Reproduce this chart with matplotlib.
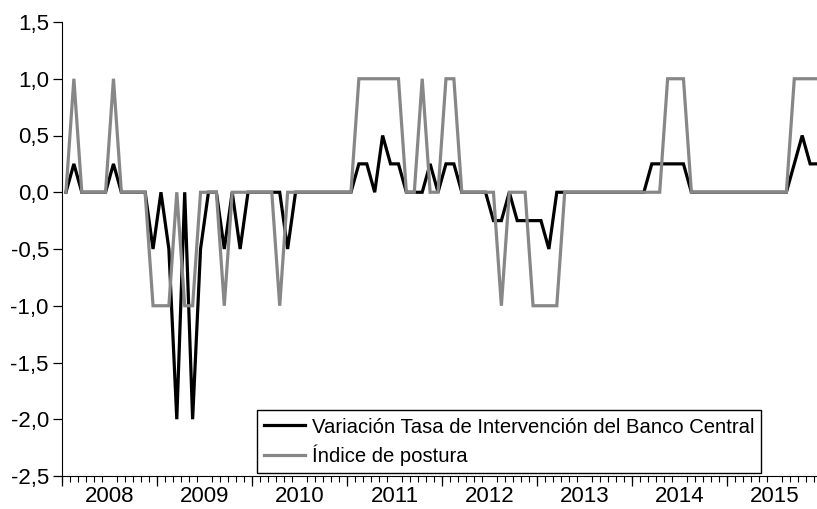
import matplotlib
matplotlib.use("Agg")
import matplotlib.pyplot as plt
import numpy as np
import pandas as pd
from matplotlib.ticker import FixedLocator, FuncFormatter

plt.rcParams["font.family"] = ["Liberation Sans", "DejaVu Sans"]

# monthly observations, Jan 2008 .. Dec 2015
months = pd.date_range("2008-01-01", "2015-12-01", freq="MS")
years = list(range(2008, 2016))

# variación de la tasa de intervención (puntos porcentuales)
tasa = [
    0, 0.25, 0, 0, 0, 0, 0.25, 0, 0, 0, 0, -0.5,          # 2008
    0, -0.5, -2.0, 0, -2.0, -0.5, 0, 0, -0.5, 0, -0.5, 0,  # 2009
    0, 0, 0, 0, -0.5, 0, 0, 0, 0, 0, 0, 0,                 # 2010
    0, 0.25, 0.25, 0, 0.5, 0.25, 0.25, 0, 0, 0, 0.25, 0,   # 2011
    0.25, 0.25, 0, 0, 0, 0, -0.25, -0.25, 0, -0.25, -0.25, -0.25,  # 2012
    -0.25, -0.5, 0, 0, 0, 0, 0, 0, 0, 0, 0, 0,             # 2013
    0, 0, 0.25, 0.25, 0.25, 0.25, 0.25, 0, 0, 0, 0, 0,     # 2014
    0, 0, 0, 0, 0, 0, 0, 0, 0.25, 0.5, 0.25, 0.25,         # 2015
]
# índice de postura
postura = [
    0, 1, 0, 0, 0, 0, 1, 0, 0, 0, 0, -1,
    -1, -1, 0, -1, -1, 0, 0, 0, -1, 0, 0, 0,
    0, 0, 0, -1, 0, 0, 0, 0, 0, 0, 0, 0,
    0, 1, 1, 1, 1, 1, 1, 0, 0, 1, 0, 0,
    1, 1, 0, 0, 0, 0, 0, -1, 0, 0, 0, -1,
    -1, -1, -1, 0, 0, 0, 0, 0, 0, 0, 0, 0,
    0, 0, 0, 0, 1, 1, 1, 0, 0, 0, 0, 0,
    0, 0, 0, 0, 0, 0, 0, 0, 1, 1, 1, 1,
]
labels = ["Variación Tasa de Intervención del Banco Central", "Índice de postura"]

x = np.arange(len(months))
W, H = 817, 509
fig = plt.figure(figsize=(W / 100, H / 100), dpi=100)
ax = fig.add_axes([62 / W, (H - 476) / H, 760 / W, 454 / H])

ax.plot(x, tasa, color="black", lw=2.3, label=labels[0], solid_joinstyle="miter")
ax.plot(x, postura, color="#878787", lw=2.3, label=labels[1], solid_joinstyle="miter")

ax.set_xlim(-0.5, len(months) - 0.5)
ax.set_ylim(-2.5, 1.5)
ax.spines["top"].set_visible(False)
ax.spines["right"].set_visible(False)

# y axis
ax.set_yticks(np.arange(-2.5, 1.51, 0.5))
ax.yaxis.set_major_formatter(FuncFormatter(lambda v, p: f"{v:.1f}".replace(".", ",")))
ax.tick_params(axis="y", direction="out", length=6.5, width=0.9, labelsize=16, pad=3)

# x axis: year labels centred, month minor ticks, year boundaries longer
ax.set_xticks([12 * k + 5.5 for k in range(len(years))])
ax.set_xticklabels([str(y) for y in years])
ax.tick_params(axis="x", which="major", length=0, labelsize=16, pad=7)
ax.xaxis.set_minor_locator(FixedLocator(np.arange(-0.5, len(months), 1.0)))
ax.tick_params(axis="x", which="minor", direction="out", length=4.3, width=0.8)
sec = ax.secondary_xaxis("bottom")
sec.set_xticks([12 * k - 0.5 for k in range(len(years) + 1)])
sec.set_xticklabels([])
sec.tick_params(length=7, width=0.9, direction="out")
sec.spines["bottom"].set_visible(False)

leg = ax.legend(loc="lower left", bbox_to_anchor=(0.2566, 0.006), borderaxespad=0,
                fontsize=14.6, frameon=True, fancybox=False, edgecolor="black",
                framealpha=1, handlelength=2.0, handletextpad=0.35,
                labelspacing=0.4, borderpad=0.35)
leg.get_frame().set_linewidth(1.0)

fig.savefig("out.png", dpi=100, facecolor="white")
